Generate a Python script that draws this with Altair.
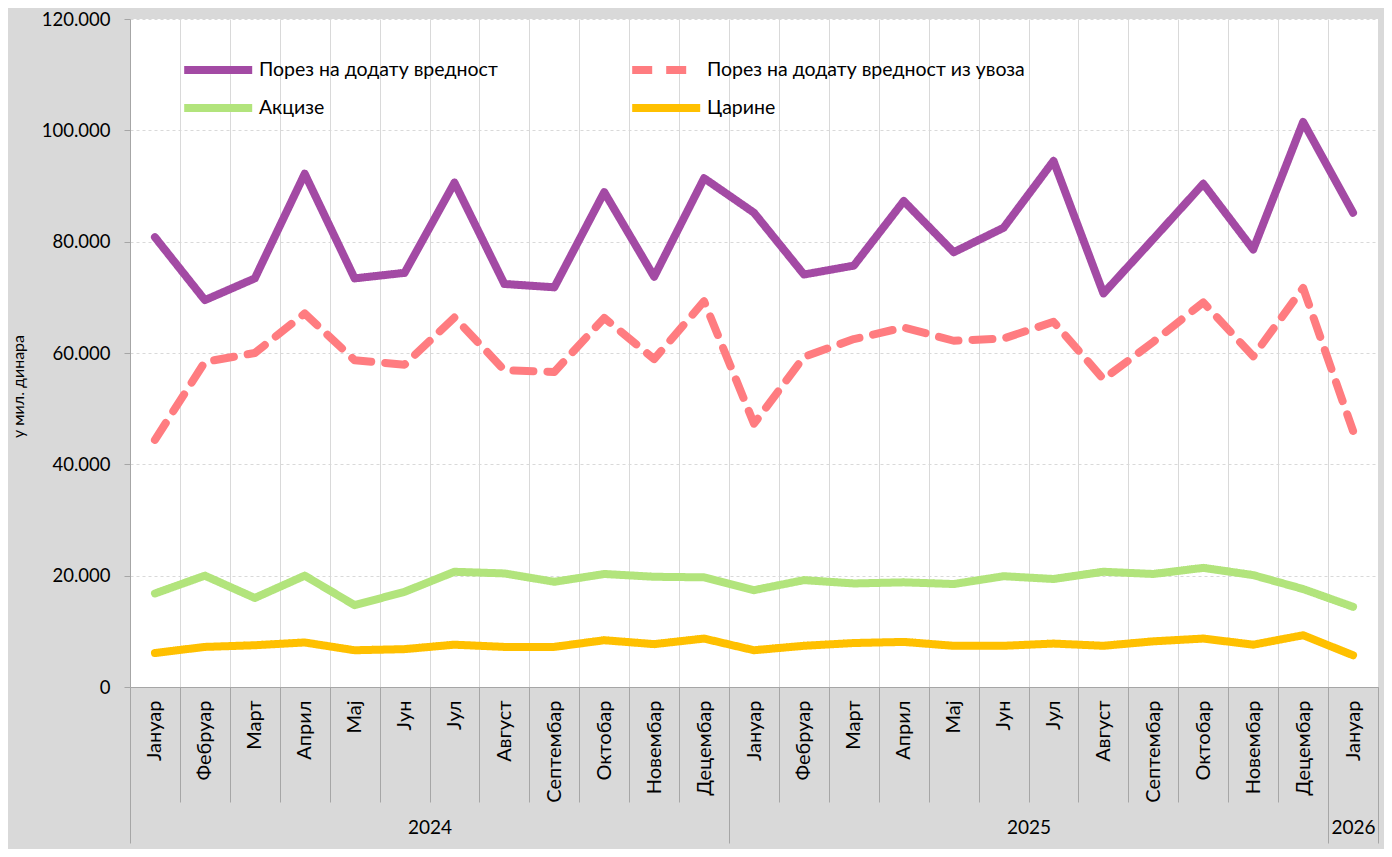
import altair as alt
import pandas as pd

# ---------------- data ----------------
months = ["Јануар", "Фебруар", "Март", "Април", "Мај", "Јун", "Јул", "Август",
          "Септембар", "Октобар", "Новембар", "Децембар"] * 2 + ["Јануар"]
years = [2024] * 12 + [2025] * 12 + [2026]

series = ["Порез на додату вредност", "Порез на додату вредност из увоза",
          "Акцизе", "Царине"]
colors = ["#A34AA4", "#FF7C80", "#B2E47C", "#FFC000"]

pdv = [80800, 69500, 73400, 92200, 73400, 74400, 90600, 72400, 71800, 88900, 73700, 91400,
       85200, 74100, 75700, 87300, 78100, 82500, 94500, 70700, 80500, 90400, 78600, 101500,
       85200]
pdv_uvoz = [44400, 58400, 60000, 67100, 58700, 57900, 66400, 56900, 56600, 66300, 58900, 69300,
            47300, 59300, 62500, 64600, 62200, 62600, 65600, 55300, 62000, 69100, 59400, 71700,
            46000]
akcize = [16800, 20000, 16000, 20000, 14700, 17100, 20700, 20400, 18900, 20300, 19800, 19700,
          17400, 19200, 18600, 18800, 18500, 19900, 19400, 20700, 20300, 21400, 20100, 17600,
          14400]
carine = [6100, 7200, 7500, 8000, 6600, 6800, 7600, 7200, 7200, 8400, 7700, 8700,
          6600, 7400, 7900, 8100, 7400, 7400, 7800, 7400, 8200, 8700, 7600, 9300,
          5700]

y_ticks = [0, 20000, 40000, 60000, 80000, 100000, 120000]

# ---------------- tables ----------------
rows = []
for s, vals in zip(series, [pdv, pdv_uvoz, akcize, carine]):
    for i, v in enumerate(vals):
        rows.append({"pos": i + 0.5, "month": months[i], "year": years[i],
                     "series": s, "value": v})
df = pd.DataFrame(rows)

n = len(months)
month_bounds = list(range(n + 1))
month_centers = [i + 0.5 for i in range(n)]
uniq_years = sorted(set(years))
year_starts = [years.index(y) for y in uniq_years]
year_ends = [len(years) - years[::-1].index(y) for y in uniq_years]
year_bounds = sorted(set(year_starts + year_ends))
year_centers = [(a + b) / 2 for a, b in zip(year_starts, year_ends)]

FONT = "Lato"
GRAY_LINE = "#A6A6A6"

xscale = alt.Scale(domain=[0, n], nice=False, zero=False)
month_arr = "[" + ",".join("'%s'" % m for m in months) + "]"
yc_arr = "[" + ",".join(str(c) for c in year_centers) + "]"
yl_arr = "[" + ",".join("'%s'" % y for y in uniq_years) + "]"

base = alt.Chart(df)

lines = base.mark_line(strokeWidth=8, strokeCap="round", strokeJoin="round").encode(
    x=alt.X("pos:Q", scale=xscale, title=None,
            axis=alt.Axis(orient="bottom", values=month_bounds, labels=False, ticks=True,
                          tickSize=115, tickColor=GRAY_LINE, domain=True, domainColor=GRAY_LINE,
                          grid=True, gridColor="#D9D9D9", gridWidth=1)),
    y=alt.Y("value:Q", scale=alt.Scale(domain=[0, 120000], nice=False), title="у мил. динара",
            axis=alt.Axis(values=y_ticks, labelExpr="replace(format(datum.value, ','), ',', '.')",
                          grid=True, gridColor="#D9D9D9", gridDash=[3, 3],
                          domainColor=GRAY_LINE, tickColor=GRAY_LINE, tickSize=6,
                          labelFontSize=18.5, labelPadding=14, labelColor="#000000", labelFont=FONT,
                          titleFontSize=16, titleFontWeight="normal", titleFont=FONT,
                          titleColor="#000000", titleX=-104, titleY=367)),
    color=alt.Color("series:N", scale=alt.Scale(domain=series, range=colors), title=None,
                    legend=alt.Legend(columns=2, direction="horizontal")),
    strokeDash=alt.StrokeDash("series:N", scale=alt.Scale(domain=series,
                              range=[[1, 0], [20, 14], [1, 0], [1, 0]]), title=None,
                              legend=alt.Legend(columns=2, direction="horizontal")),
    detail="series:N",
)

month_labels = base.mark_point(opacity=0).encode(
    x=alt.X("pos:Q", scale=xscale, title=None,
            axis=alt.Axis(orient="bottom", values=month_centers, ticks=False, tickSize=0,
                          domain=False, grid=False, labelAngle=270, labelPadding=13,
                          labelFontSize=20, labelFont=FONT, labelColor="#000000",
                          labelExpr=month_arr + "[floor(datum.value)]")),
)

year_ticks = base.mark_point(opacity=0).encode(
    x=alt.X("pos:Q", scale=xscale, title=None,
            axis=alt.Axis(orient="bottom", values=year_bounds, labels=False, ticks=True,
                          tickSize=156, tickColor=GRAY_LINE, domain=False, grid=False)),
)

year_labels = base.mark_point(opacity=0).encode(
    x=alt.X("pos:Q", scale=xscale, title=None,
            axis=alt.Axis(orient="bottom", values=year_centers, ticks=False, tickSize=0,
                          domain=False, grid=False, labelAngle=0, labelPadding=131,
                          labelFontSize=19, labelFont=FONT, labelColor="#000000",
                          labelExpr=yl_arr + "[indexof(" + yc_arr + ", datum.value)]")),
)

chart = alt.layer(lines, month_labels, year_ticks, year_labels).resolve_axis(
    x="independent"
).properties(
    width=1248, height=668,
    autosize=alt.AutoSizeParams(type="none"),
    padding={"left": 122, "top": 11, "right": 6, "bottom": 162},
    background="#D9D9D9",
).configure_view(
    fill="white", stroke=None
).configure_legend(
    orient="none", legendX=50, legendY=40, columns=2, padding=0, direction="horizontal",
    symbolType="M-1,0H9", symbolSize=185, symbolStrokeWidth=8,
    labelFont=FONT, labelFontSize=19.5, labelColor="#000000", labelLimit=600,
    labelOffset=57, columnPadding=118, rowPadding=6,
)

chart.save("out.html", embed_options={"renderer": "svg", "actions": False})
